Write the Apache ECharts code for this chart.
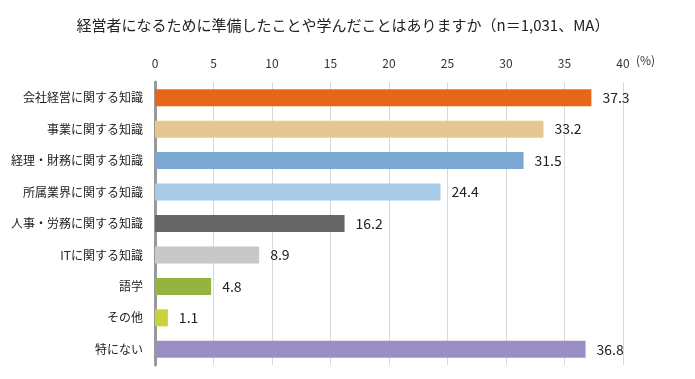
<!DOCTYPE html>
<html><head><meta charset="utf-8">
<script src="https://cdn.jsdelivr.net/npm/echarts@6/dist/echarts.min.js"></script>
<style>html,body{margin:0;padding:0;background:#fff}#c{width:695px;height:379px}</style>
</head><body><div id="c"></div>
<script>
const title = '経営者になるために準備したことや学んだことはありますか（n＝1,031、MA）';
const categories = ['会社経営に関する知識','事業に関する知識','経理・財務に関する知識','所属業界に関する知識','人事・労務に関する知識','ITに関する知識','語学','その他','特にない'];
const values = [37.3, 33.2, 31.5, 24.4, 16.2, 8.9, 4.8, 1.1, 36.8];
const colors = ['#E8661A','#E6C792','#7BA7D3','#A5CBE8','#666666','#C8C8C8','#93B43E','#C8D23A','#9B8EC4'];
const unitLabel = '(%)';

const font = '"Noto Sans CJK JP", sans-serif';
const chart = echarts.init(document.getElementById('c'), null, {renderer:'canvas'});
chart.setOption({
  animation:false,
  textStyle:{fontFamily:font},
  title:{text:title, left:338, top:13, textAlign:'center',
    textStyle:{fontFamily:font, fontSize:15, fontWeight:'normal', color:'#222'}},
  graphic:[{type:'text', left:636, top:54, style:{text:unitLabel, font:'12px '+font, fill:'#333'}}],
  grid:{left:155, right:72, top:82, bottom:14},
  xAxis:{type:'value', position:'top', min:0, max:40, interval:5,
    axisLine:{show:false}, axisTick:{show:false},
    axisLabel:{color:'#333', fontSize:12, margin:13, fontFamily:font},
    splitLine:{lineStyle:{color:'#D9D9D9', width:1}}},
  yAxis:{type:'category', inverse:true, data:categories,
    axisLine:{show:true, lineStyle:{color:'#999', width:3}}, axisTick:{show:false},
    axisLabel:{color:'#222', fontSize:12, margin:12, fontFamily:font}},
  series:[{type:'bar', data:values.map((v,i)=>({value:v, itemStyle:{color:colors[i]}})),
    barWidth:17,
    label:{show:true, position:'right', distance:11, color:'#222', fontSize:14, fontFamily:font,
      formatter:p=>p.value.toFixed(1)}}]
});
</script></body></html>
